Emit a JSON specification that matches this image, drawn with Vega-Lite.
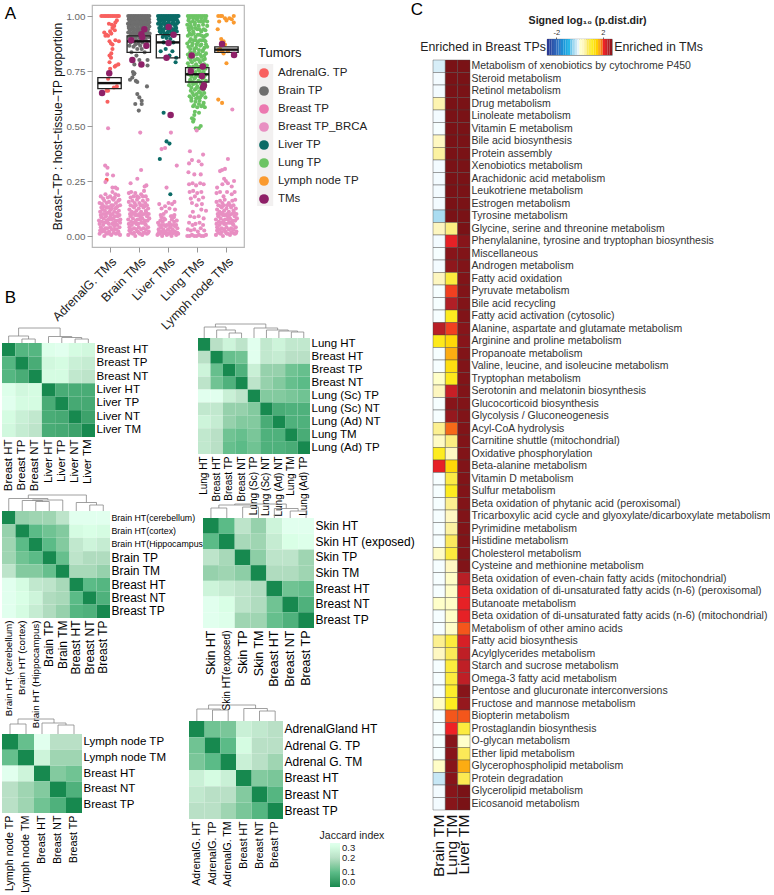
{"$schema":"https://vega.github.io/schema/vega-lite/v6.json","padding":{"left":2,"top":-5,"right":0,"bottom":0},"background":"white","bounds":"flush","spacing":0,
"config":{"font":"Liberation Sans","view":{"stroke":null},"axis":{"grid":false,"labelFont":"Liberation Sans","titleFont":"Liberation Sans"},"legend":{"labelFont":"Liberation Sans","titleFont":"Liberation Sans"}},
"hconcat":[
{"vconcat":[
{"width":17,"height":26,"data":{"values":[{"t":"A"}]},"mark":{"type":"text","fontSize":17},"encoding":{"text":{"field":"t"}}},
{"width":1,"height":261,"data":{"values":[{"a":1}]},"mark":{"type":"text","text":""},"encoding":{}},
{"width":17,"height":20,"data":{"values":[{"t":"B"}]},"mark":{"type":"text","fontSize":17},"encoding":{"text":{"field":"t"}}},
{"width":1,"height":35,"data":{"values":[{"a":1}]},"mark":{"type":"text","text":""},"encoding":{}},
{"width":93,"height":94,"resolve":{"scale":{"x":"independent","y":"independent"}},"layer":[
{"data":{"values":[
{"r":"Breast HT","c":"Breast HT","v":0},{"r":"Breast HT","c":"Breast TP","v":0.09},{"r":"Breast HT","c":"Breast NT","v":0.09},{"r":"Breast HT","c":"Liver HT","v":0.29},{"r":"Breast HT","c":"Liver TP","v":0.3},{"r":"Breast HT","c":"Liver NT","v":0.27},{"r":"Breast HT","c":"Liver TM","v":0.26},
{"r":"Breast TP","c":"Breast HT","v":0.09},{"r":"Breast TP","c":"Breast TP","v":0},{"r":"Breast TP","c":"Breast NT","v":0.07},{"r":"Breast TP","c":"Liver HT","v":0.26},{"r":"Breast TP","c":"Liver TP","v":0.27},{"r":"Breast TP","c":"Liver NT","v":0.24},{"r":"Breast TP","c":"Liver TM","v":0.23},
{"r":"Breast NT","c":"Breast HT","v":0.09},{"r":"Breast NT","c":"Breast TP","v":0.07},{"r":"Breast NT","c":"Breast NT","v":0},{"r":"Breast NT","c":"Liver HT","v":0.27},{"r":"Breast NT","c":"Liver TP","v":0.27},{"r":"Breast NT","c":"Liver NT","v":0.22},{"r":"Breast NT","c":"Liver TM","v":0.21},
{"r":"Liver HT","c":"Breast HT","v":0.29},{"r":"Liver HT","c":"Breast TP","v":0.26},{"r":"Liver HT","c":"Breast NT","v":0.27},{"r":"Liver HT","c":"Liver HT","v":0},{"r":"Liver HT","c":"Liver TP","v":0.07},{"r":"Liver HT","c":"Liver NT","v":0.07},{"r":"Liver HT","c":"Liver TM","v":0.07},
{"r":"Liver TP","c":"Breast HT","v":0.3},{"r":"Liver TP","c":"Breast TP","v":0.27},{"r":"Liver TP","c":"Breast NT","v":0.27},{"r":"Liver TP","c":"Liver HT","v":0.07},{"r":"Liver TP","c":"Liver TP","v":0},{"r":"Liver TP","c":"Liver NT","v":0.065},{"r":"Liver TP","c":"Liver TM","v":0.065},
{"r":"Liver NT","c":"Breast HT","v":0.27},{"r":"Liver NT","c":"Breast TP","v":0.24},{"r":"Liver NT","c":"Breast NT","v":0.22},{"r":"Liver NT","c":"Liver HT","v":0.07},{"r":"Liver NT","c":"Liver TP","v":0.065},{"r":"Liver NT","c":"Liver NT","v":0},{"r":"Liver NT","c":"Liver TM","v":0.05},
{"r":"Liver TM","c":"Breast HT","v":0.26},{"r":"Liver TM","c":"Breast TP","v":0.23},{"r":"Liver TM","c":"Breast NT","v":0.21},{"r":"Liver TM","c":"Liver HT","v":0.07},{"r":"Liver TM","c":"Liver TP","v":0.065},{"r":"Liver TM","c":"Liver NT","v":0.05},{"r":"Liver TM","c":"Liver TM","v":0}
]},"mark":"rect","encoding":{
"x":{"field":"c","type":"nominal","sort":null,"title":null,"axis":{"labelAngle":-90,"labelFontSize":11.5,"labelPadding":2,"ticks":false,"domain":false,"labelLimit":300,"labelOverlap":false}},
"y":{"field":"r","type":"nominal","sort":null,"title":null,"axis":{"orient":"right","labelFontSize":11.5,"labelPadding":1,"ticks":false,"domain":false,"labelLimit":300,"labelOverlap":false}},
"color":{"field":"v","type":"quantitative","legend":null,"scale":{"domain":[0,0.1,0.2,0.3],"range":["#17894f","#5bbb87","#b9e0c6","#ffffff"]}}}},
{"data":{"values":[{"l":1.5,"r":2.5,"a":0,"b":0,"t":4},{"l":0.5,"r":2,"a":0,"b":4,"t":7},{"l":5.5,"r":6.5,"a":0,"b":0,"t":4},{"l":4.5,"r":6,"a":0,"b":4,"t":5.5},{"l":3.5,"r":5.25,"a":0,"b":5.5,"t":6.5},{"l":1.25,"r":4.375,"a":7,"b":6.5,"t":15}]},
"layer":[
{"mark":{"type":"rule","color":"#888","strokeWidth":0.8},"encoding":{"x":{"field":"l","type":"quantitative","axis":null,"scale":{"domain":[0,7]}},"y":{"field":"a","type":"quantitative","axis":null,"scale":{"domain":[-94,0]}},"y2":{"field":"t"}}},
{"mark":{"type":"rule","color":"#888","strokeWidth":0.8},"encoding":{"x":{"field":"r","type":"quantitative","axis":null,"scale":{"domain":[0,7]}},"y":{"field":"b","type":"quantitative","axis":null,"scale":{"domain":[-94,0]}},"y2":{"field":"t"}}},
{"mark":{"type":"rule","color":"#888","strokeWidth":0.8},"encoding":{"x":{"field":"l","type":"quantitative","axis":null,"scale":{"domain":[0,7]}},"x2":{"field":"r"},"y":{"field":"t","type":"quantitative","axis":null,"scale":{"domain":[-94,0]}}}}
]}
]},
{"width":1,"height":74,"data":{"values":[{"a":1}]},"mark":{"type":"text","text":""},"encoding":{}},
{"width":108,"height":107,"resolve":{"scale":{"x":"independent","y":"independent"}},"layer":[
{"data":{"values":[
{"r":"Brain HT(cerebellum)","c":"Brain HT (cerebellum)","v":0},{"r":"Brain HT(cerebellum)","c":"Brain HT (cortex)","v":0.16},{"r":"Brain HT(cerebellum)","c":"Brain HT (Hippocampus)","v":0.17},{"r":"Brain HT(cerebellum)","c":"Brain TP","v":0.17},{"r":"Brain HT(cerebellum)","c":"Brain TM","v":0.21},{"r":"Brain HT(cerebellum)","c":"Breast HT","v":0.3},{"r":"Brain HT(cerebellum)","c":"Breast NT","v":0.3},{"r":"Brain HT(cerebellum)","c":"Breast TP","v":0.3},
{"r":"Brain HT(cortex)","c":"Brain HT (cerebellum)","v":0.16},{"r":"Brain HT(cortex)","c":"Brain HT (cortex)","v":0},{"r":"Brain HT(cortex)","c":"Brain HT (Hippocampus)","v":0.1},{"r":"Brain HT(cortex)","c":"Brain TP","v":0.12},{"r":"Brain HT(cortex)","c":"Brain TM","v":0.14},{"r":"Brain HT(cortex)","c":"Breast HT","v":0.27},{"r":"Brain HT(cortex)","c":"Breast NT","v":0.28},{"r":"Brain HT(cortex)","c":"Breast TP","v":0.27},
{"r":"Brain HT(Hippocampus)","c":"Brain HT (cerebellum)","v":0.17},{"r":"Brain HT(Hippocampus)","c":"Brain HT (cortex)","v":0.1},{"r":"Brain HT(Hippocampus)","c":"Brain HT (Hippocampus)","v":0},{"r":"Brain HT(Hippocampus)","c":"Brain TP","v":0.1},{"r":"Brain HT(Hippocampus)","c":"Brain TM","v":0.14},{"r":"Brain HT(Hippocampus)","c":"Breast HT","v":0.22},{"r":"Brain HT(Hippocampus)","c":"Breast NT","v":0.25},{"r":"Brain HT(Hippocampus)","c":"Breast TP","v":0.23},
{"r":"Brain TP","c":"Brain HT (cerebellum)","v":0.17},{"r":"Brain TP","c":"Brain HT (cortex)","v":0.12},{"r":"Brain TP","c":"Brain HT (Hippocampus)","v":0.1},{"r":"Brain TP","c":"Brain TP","v":0},{"r":"Brain TP","c":"Brain TM","v":0.11},{"r":"Brain TP","c":"Breast HT","v":0.21},{"r":"Brain TP","c":"Breast NT","v":0.19},{"r":"Brain TP","c":"Breast TP","v":0.19},
{"r":"Brain TM","c":"Brain HT (cerebellum)","v":0.21},{"r":"Brain TM","c":"Brain HT (cortex)","v":0.14},{"r":"Brain TM","c":"Brain HT (Hippocampus)","v":0.14},{"r":"Brain TM","c":"Brain TP","v":0.11},{"r":"Brain TM","c":"Brain TM","v":0},{"r":"Brain TM","c":"Breast HT","v":0.18},{"r":"Brain TM","c":"Breast NT","v":0.18},{"r":"Brain TM","c":"Breast TP","v":0.16},
{"r":"Breast HT","c":"Brain HT (cerebellum)","v":0.3},{"r":"Breast HT","c":"Brain HT (cortex)","v":0.27},{"r":"Breast HT","c":"Brain HT (Hippocampus)","v":0.22},{"r":"Breast HT","c":"Brain TP","v":0.21},{"r":"Breast HT","c":"Brain TM","v":0.18},{"r":"Breast HT","c":"Breast HT","v":0},{"r":"Breast HT","c":"Breast NT","v":0.1},{"r":"Breast HT","c":"Breast TP","v":0.09},
{"r":"Breast NT","c":"Brain HT (cerebellum)","v":0.3},{"r":"Breast NT","c":"Brain HT (cortex)","v":0.28},{"r":"Breast NT","c":"Brain HT (Hippocampus)","v":0.25},{"r":"Breast NT","c":"Brain TP","v":0.19},{"r":"Breast NT","c":"Brain TM","v":0.18},{"r":"Breast NT","c":"Breast HT","v":0.1},{"r":"Breast NT","c":"Breast NT","v":0},{"r":"Breast NT","c":"Breast TP","v":0.08},
{"r":"Breast TP","c":"Brain HT (cerebellum)","v":0.3},{"r":"Breast TP","c":"Brain HT (cortex)","v":0.27},{"r":"Breast TP","c":"Brain HT (Hippocampus)","v":0.23},{"r":"Breast TP","c":"Brain TP","v":0.19},{"r":"Breast TP","c":"Brain TM","v":0.16},{"r":"Breast TP","c":"Breast HT","v":0.09},{"r":"Breast TP","c":"Breast NT","v":0.08},{"r":"Breast TP","c":"Breast TP","v":0}
]},"mark":"rect","encoding":{
"x":{"field":"c","type":"nominal","sort":null,"title":null,"axis":{"labelAngle":-90,"labelFontSize":{"condition":{"test":"indexof(datum.label,'(')>=0","value":9.8},"value":12},"labelPadding":2,"ticks":false,"domain":false,"labelLimit":300,"labelOverlap":false}},
"y":{"field":"r","type":"nominal","sort":null,"title":null,"axis":{"orient":"right","labelFontSize":{"condition":{"test":"indexof(datum.label,'(')>=0","value":8.8},"value":12},"labelPadding":1,"ticks":false,"domain":false,"labelLimit":300,"labelOverlap":false}},
"color":{"field":"v","type":"quantitative","legend":null,"scale":{"domain":[0,0.1,0.2,0.3],"range":["#17894f","#5bbb87","#b9e0c6","#ffffff"]}}}},
{"data":{"values":[{"l":2.5,"r":3.5,"a":0,"b":0,"t":9.5},{"l":1.5,"r":3,"a":0,"b":9.5,"t":10.5},{"l":2.25,"r":4.5,"a":10.5,"b":0,"t":11},{"l":0.5,"r":3.4,"a":0,"b":11,"t":12.5},{"l":6.5,"r":7.5,"a":0,"b":0,"t":6},{"l":5.5,"r":7,"a":0,"b":6,"t":8.5},{"l":1.95,"r":6.25,"a":12.5,"b":8.5,"t":16}]},
"layer":[
{"mark":{"type":"rule","color":"#888","strokeWidth":0.8},"encoding":{"x":{"field":"l","type":"quantitative","axis":null,"scale":{"domain":[0,8]}},"y":{"field":"a","type":"quantitative","axis":null,"scale":{"domain":[-107,0]}},"y2":{"field":"t"}}},
{"mark":{"type":"rule","color":"#888","strokeWidth":0.8},"encoding":{"x":{"field":"r","type":"quantitative","axis":null,"scale":{"domain":[0,8]}},"y":{"field":"b","type":"quantitative","axis":null,"scale":{"domain":[-107,0]}},"y2":{"field":"t"}}},
{"mark":{"type":"rule","color":"#888","strokeWidth":0.8},"encoding":{"x":{"field":"l","type":"quantitative","axis":null,"scale":{"domain":[0,8]}},"x2":{"field":"r"},"y":{"field":"t","type":"quantitative","axis":null,"scale":{"domain":[-107,0]}}}}
]}
]},
{"width":1,"height":116,"data":{"values":[{"a":1}]},"mark":{"type":"text","text":""},"encoding":{}},
{"width":80,"height":79,"resolve":{"scale":{"x":"independent","y":"independent"}},"layer":[
{"data":{"values":[
{"r":"Lymph node TP","c":"Lymph node TP","v":0},{"r":"Lymph node TP","c":"Lymph node TM","v":0.11},{"r":"Lymph node TP","c":"Breast HT","v":0.3},{"r":"Lymph node TP","c":"Breast NT","v":0.2},{"r":"Lymph node TP","c":"Breast TP","v":0.2},
{"r":"Lymph node TM","c":"Lymph node TP","v":0.11},{"r":"Lymph node TM","c":"Lymph node TM","v":0},{"r":"Lymph node TM","c":"Breast HT","v":0.25},{"r":"Lymph node TM","c":"Breast NT","v":0.17},{"r":"Lymph node TM","c":"Breast TP","v":0.17},
{"r":"Breast HT","c":"Lymph node TP","v":0.3},{"r":"Breast HT","c":"Lymph node TM","v":0.25},{"r":"Breast HT","c":"Breast HT","v":0},{"r":"Breast HT","c":"Breast NT","v":0.14},{"r":"Breast HT","c":"Breast TP","v":0.12},
{"r":"Breast NT","c":"Lymph node TP","v":0.2},{"r":"Breast NT","c":"Lymph node TM","v":0.17},{"r":"Breast NT","c":"Breast HT","v":0.14},{"r":"Breast NT","c":"Breast NT","v":0},{"r":"Breast NT","c":"Breast TP","v":0.08},
{"r":"Breast TP","c":"Lymph node TP","v":0.2},{"r":"Breast TP","c":"Lymph node TM","v":0.17},{"r":"Breast TP","c":"Breast HT","v":0.12},{"r":"Breast TP","c":"Breast NT","v":0.08},{"r":"Breast TP","c":"Breast TP","v":0}
]},"mark":"rect","encoding":{
"x":{"field":"c","type":"nominal","sort":null,"title":null,"axis":{"labelAngle":-90,"labelFontSize":10.8,"labelPadding":2,"ticks":false,"domain":false,"labelLimit":300,"labelOverlap":false}},
"y":{"field":"r","type":"nominal","sort":null,"title":null,"axis":{"orient":"right","labelFontSize":11.5,"labelPadding":1,"ticks":false,"domain":false,"labelLimit":300,"labelOverlap":false}},
"color":{"field":"v","type":"quantitative","legend":null,"scale":{"domain":[0,0.1,0.2,0.3],"range":["#17894f","#5bbb87","#b9e0c6","#ffffff"]}}}},
{"data":{"values":[{"l":0.5,"r":1.5,"a":0,"b":0,"t":10},{"l":3.5,"r":4.5,"a":0,"b":0,"t":9},{"l":2.5,"r":4,"a":0,"b":9,"t":11},{"l":1,"r":3.25,"a":10,"b":11,"t":15}]},
"layer":[
{"mark":{"type":"rule","color":"#888","strokeWidth":0.8},"encoding":{"x":{"field":"l","type":"quantitative","axis":null,"scale":{"domain":[0,5]}},"y":{"field":"a","type":"quantitative","axis":null,"scale":{"domain":[-79,0]}},"y2":{"field":"t"}}},
{"mark":{"type":"rule","color":"#888","strokeWidth":0.8},"encoding":{"x":{"field":"r","type":"quantitative","axis":null,"scale":{"domain":[0,5]}},"y":{"field":"b","type":"quantitative","axis":null,"scale":{"domain":[-79,0]}},"y2":{"field":"t"}}},
{"mark":{"type":"rule","color":"#888","strokeWidth":0.8},"encoding":{"x":{"field":"l","type":"quantitative","axis":null,"scale":{"domain":[0,5]}},"x2":{"field":"r"},"y":{"field":"t","type":"quantitative","axis":null,"scale":{"domain":[-79,0]}}}}
]}
]}
],"bounds":"flush","spacing":0},
{"width":90,"height":1,"data":{"values":[{"a":1}]},"mark":{"type":"text","text":""},"encoding":{}},
{"vconcat":[
{"width":1,"height":4,"data":{"values":[{"a":1}]},"mark":{"type":"text","text":""},"encoding":{}},
{"width":152,"height":242,"view":{"stroke":"#b8b8b8","strokeWidth":1.2},
"encoding":{"x":{"field":"x","type":"quantitative","title":null,"scale":{"domain":[0.4,5.6],"nice":false,"zero":false},"axis":{"values":[1,2,3,4,5],"labelExpr":"['AdrenalG. TMs','Brain TMs','Liver TMs','Lung TMs','Lymph node TMs'][datum.value-1]","labelAngle":-45,"labelFontSize":12.5,"labelColor":"#222","labelLimit":300,"labelOverlap":false,"domain":false,"tickColor":"#999","labelPadding":3}},
"y":{"field":"y","type":"quantitative","title":"Breast−TP : host−tissue−TP proportion","scale":{"domain":[-0.05,1.05],"nice":false,"zero":false},"axis":{"values":[0,0.25,0.5,0.75,1],"format":".2f","labelFontSize":9.8,"labelColor":"#666","titleFontSize":12,"titleFontWeight":"normal","titleColor":"#111","domain":false,"tickColor":"#999","titlePadding":1}}},
"layer":[
{"data":{"values":[{"x":6.05,"x2":6.6,"y":0.136,"y2":0.782}]},"mark":{"type":"rect","color":"#f2f0f0"},"encoding":{"x2":{"field":"x2"},"y2":{"field":"y2"}}},
{"data":{"values":[{"x":0.72,"y":1},{"x":0.78,"y":1},{"x":0.84,"y":1},{"x":0.88,"y":1},{"x":0.94,"y":1},{"x":0.98,"y":1},{"x":1.04,"y":1},{"x":1.1,"y":1},{"x":1.16,"y":1},{"x":1.22,"y":1},{"x":1.28,"y":1},{"x":1.32,"y":1},{"x":1.25,"y":0.98},{"x":1.2,"y":0.97},{"x":1.08,"y":0.96},{"x":0.98,"y":0.965},{"x":1.16,"y":0.955},{"x":1.1,"y":0.945},{"x":1.02,"y":0.93},{"x":1.18,"y":0.935},{"x":0.82,"y":0.925},{"x":0.9,"y":0.915},{"x":0.95,"y":0.91},{"x":1.06,"y":0.92},{"x":0.86,"y":0.91},{"x":1.2,"y":0.89},{"x":1,"y":0.885},{"x":1.05,"y":0.875},{"x":1.1,"y":0.87},{"x":1.32,"y":0.885},{"x":1.1,"y":0.85},{"x":1.06,"y":0.83},{"x":1,"y":0.82},{"x":1.05,"y":0.81},{"x":1,"y":0.79},{"x":1.3,"y":0.78},{"x":1.22,"y":0.775},{"x":1.18,"y":0.77},{"x":1.02,"y":0.76},{"x":0.95,"y":0.715},{"x":1.25,"y":0.68},{"x":1.15,"y":0.675},{"x":0.95,"y":0.66},{"x":0.9,"y":0.66},{"x":0.93,"y":0.61},{"x":0.9,"y":0.255}]},"mark":{"type":"circle","size":17,"opacity":1},"encoding":{"color":{"datum":"AdrenalG. TP","type":"nominal","scale":{"domain":["AdrenalG. TP","Brain TP","Breast TP","Breast TP_BRCA","Liver TP","Lung TP","Lymph node TP","TMs"],"range":["#f8605f","#6e6e6e","#ec78b0","#e88fc2","#0b6b66","#6cc464","#fa9a2f","#8e2068"]},"legend":{"title":"Tumors","orient":"none","legendX":166,"legendY":46,"titleFontSize":13,"titleFontWeight":"normal","titleColor":"#111","labelFontSize":11.5,"labelColor":"#222","symbolSize":95,"symbolOpacity":1,"rowPadding":6,"titlePadding":7,"labelOffset":8,"symbolType":"circle"}}}},
{"data":{"values":[{"x":1.64,"y":1},{"x":1.7,"y":1},{"x":1.76,"y":1},{"x":1.82,"y":1},{"x":1.88,"y":1},{"x":1.94,"y":1},{"x":2,"y":1},{"x":2.06,"y":1},{"x":2.12,"y":1},{"x":2.18,"y":1},{"x":2.24,"y":1},{"x":2.3,"y":1},{"x":2.36,"y":1},{"x":1.66,"y":0.985},{"x":1.73,"y":0.98},{"x":1.8,"y":0.985},{"x":1.87,"y":0.98},{"x":1.93,"y":0.985},{"x":2,"y":0.98},{"x":2.07,"y":0.985},{"x":2.14,"y":0.98},{"x":2.21,"y":0.985},{"x":2.28,"y":0.98},{"x":2.35,"y":0.985},{"x":1.63,"y":0.965},{"x":1.7,"y":0.96},{"x":1.77,"y":0.965},{"x":1.84,"y":0.96},{"x":1.91,"y":0.965},{"x":1.98,"y":0.96},{"x":2.05,"y":0.965},{"x":2.12,"y":0.96},{"x":2.19,"y":0.965},{"x":2.26,"y":0.96},{"x":2.33,"y":0.965},{"x":1.66,"y":0.945},{"x":1.74,"y":0.94},{"x":1.82,"y":0.945},{"x":1.9,"y":0.94},{"x":1.97,"y":0.945},{"x":2.04,"y":0.94},{"x":2.11,"y":0.945},{"x":2.18,"y":0.94},{"x":2.25,"y":0.945},{"x":2.32,"y":0.94},{"x":1.64,"y":0.925},{"x":1.72,"y":0.92},{"x":1.8,"y":0.925},{"x":1.88,"y":0.92},{"x":1.96,"y":0.925},{"x":2.03,"y":0.92},{"x":2.1,"y":0.925},{"x":2.2,"y":0.92},{"x":2.3,"y":0.925},{"x":2.37,"y":0.92},{"x":1.68,"y":0.905},{"x":1.8,"y":0.9},{"x":1.9,"y":0.905},{"x":2.02,"y":0.9},{"x":2.14,"y":0.905},{"x":2.24,"y":0.9},{"x":2.34,"y":0.905},{"x":1.72,"y":0.88},{"x":1.85,"y":0.885},{"x":1.98,"y":0.875},{"x":2.12,"y":0.88},{"x":2.28,"y":0.885},{"x":1.82,"y":0.86},{"x":1.95,"y":0.85},{"x":2.1,"y":0.85},{"x":2.2,"y":0.835},{"x":1.75,"y":0.835},{"x":1.92,"y":0.82},{"x":2.02,"y":0.8},{"x":2.3,"y":0.8},{"x":1.85,"y":0.78},{"x":2.3,"y":0.775},{"x":1.8,"y":0.745},{"x":1.83,"y":0.735},{"x":1.85,"y":0.74},{"x":1.78,"y":0.72},{"x":1.7,"y":0.71},{"x":1.9,"y":0.705},{"x":1.95,"y":0.7},{"x":2.28,"y":0.68},{"x":1.95,"y":0.645},{"x":2.02,"y":0.63},{"x":2.1,"y":0.615},{"x":1.88,"y":0.6},{"x":2.1,"y":0.6},{"x":2,"y":0.57},{"x":1.67,"y":0.99},{"x":1.78,"y":0.99},{"x":1.9,"y":0.99},{"x":2.03,"y":0.99},{"x":2.16,"y":0.99},{"x":2.3,"y":0.99},{"x":1.68,"y":0.972},{"x":1.8,"y":0.972},{"x":1.94,"y":0.972},{"x":2.08,"y":0.972},{"x":2.22,"y":0.972},{"x":2.36,"y":0.972},{"x":1.66,"y":0.952},{"x":1.78,"y":0.952},{"x":1.94,"y":0.952},{"x":2.08,"y":0.952},{"x":2.22,"y":0.952},{"x":2.36,"y":0.952},{"x":1.69,"y":0.932},{"x":1.84,"y":0.932},{"x":1.99,"y":0.932},{"x":2.15,"y":0.932},{"x":2.26,"y":0.932},{"x":1.74,"y":0.912},{"x":1.86,"y":0.912},{"x":1.97,"y":0.912},{"x":2.09,"y":0.912},{"x":2.19,"y":0.912},{"x":2.29,"y":0.912},{"x":1.76,"y":0.895},{"x":1.92,"y":0.89},{"x":2.06,"y":0.89},{"x":2.2,"y":0.89},{"x":1.68,"y":0.865},{"x":1.88,"y":0.87},{"x":2.05,"y":0.865},{"x":2.24,"y":0.86}]},"mark":{"type":"circle","size":17,"opacity":1},"encoding":{"color":{"datum":"Brain TP","type":"nominal"}}},
{"data":{"values":[{"x":2.66,"y":1},{"x":2.72,"y":1},{"x":2.78,"y":1},{"x":2.84,"y":1},{"x":2.9,"y":1},{"x":2.96,"y":1},{"x":3.02,"y":1},{"x":3.08,"y":1},{"x":3.14,"y":1},{"x":3.2,"y":1},{"x":3.26,"y":1},{"x":3.32,"y":1},{"x":3.36,"y":1},{"x":2.68,"y":0.985},{"x":2.75,"y":0.98},{"x":2.82,"y":0.985},{"x":2.89,"y":0.98},{"x":2.96,"y":0.985},{"x":3.03,"y":0.98},{"x":3.1,"y":0.985},{"x":3.17,"y":0.98},{"x":3.24,"y":0.985},{"x":3.31,"y":0.98},{"x":2.66,"y":0.965},{"x":2.74,"y":0.96},{"x":2.82,"y":0.965},{"x":2.9,"y":0.96},{"x":2.98,"y":0.965},{"x":3.06,"y":0.96},{"x":3.14,"y":0.965},{"x":3.22,"y":0.96},{"x":3.3,"y":0.965},{"x":2.7,"y":0.945},{"x":2.8,"y":0.94},{"x":2.9,"y":0.945},{"x":3,"y":0.94},{"x":3.1,"y":0.945},{"x":3.2,"y":0.94},{"x":3.28,"y":0.945},{"x":2.76,"y":0.925},{"x":2.88,"y":0.92},{"x":2.98,"y":0.925},{"x":3.12,"y":0.92},{"x":3.22,"y":0.925},{"x":2.82,"y":0.905},{"x":2.95,"y":0.9},{"x":3.08,"y":0.895},{"x":2.85,"y":0.88},{"x":3.02,"y":0.875},{"x":3.18,"y":0.88},{"x":2.92,"y":0.85},{"x":3.15,"y":0.84},{"x":2.75,"y":0.84},{"x":3.05,"y":0.82},{"x":3.28,"y":0.81},{"x":3.26,"y":0.79},{"x":2.85,"y":0.56},{"x":2.95,"y":0.43},{"x":3.05,"y":0.42},{"x":2.72,"y":0.35},{"x":3.08,"y":0.19},{"x":2.7,"y":0.99},{"x":2.86,"y":0.99},{"x":3,"y":0.99},{"x":3.14,"y":0.99},{"x":3.28,"y":0.99},{"x":2.7,"y":0.972},{"x":2.86,"y":0.972},{"x":3.02,"y":0.972},{"x":3.18,"y":0.972},{"x":3.34,"y":0.972},{"x":2.76,"y":0.952},{"x":2.95,"y":0.952},{"x":3.05,"y":0.952},{"x":3.25,"y":0.952},{"x":2.72,"y":0.93},{"x":2.84,"y":0.932},{"x":3.05,"y":0.932},{"x":3.17,"y":0.932},{"x":3.3,"y":0.93},{"x":2.9,"y":0.912},{"x":3.03,"y":0.912}]},"mark":{"type":"circle","size":17,"opacity":1},"encoding":{"color":{"datum":"Liver TP","type":"nominal"}}},
{"data":{"values":[{"x":3.68,"y":1},{"x":3.75,"y":1},{"x":3.82,"y":1},{"x":3.89,"y":1},{"x":3.96,"y":1},{"x":4.03,"y":1},{"x":4.1,"y":1},{"x":4.17,"y":1},{"x":4.24,"y":1},{"x":4.31,"y":1},{"x":3.7,"y":0.98},{"x":3.85,"y":0.975},{"x":3.98,"y":0.985},{"x":4.12,"y":0.975},{"x":4.26,"y":0.98},{"x":3.66,"y":0.96},{"x":3.78,"y":0.955},{"x":3.92,"y":0.96},{"x":4.05,"y":0.955},{"x":4.2,"y":0.96},{"x":4.34,"y":0.955},{"x":3.72,"y":0.935},{"x":3.86,"y":0.93},{"x":4,"y":0.94},{"x":4.14,"y":0.93},{"x":4.28,"y":0.935},{"x":3.68,"y":0.91},{"x":3.8,"y":0.915},{"x":3.94,"y":0.905},{"x":4.08,"y":0.915},{"x":4.22,"y":0.905},{"x":4.33,"y":0.915},{"x":3.74,"y":0.885},{"x":3.88,"y":0.89},{"x":4.02,"y":0.88},{"x":4.16,"y":0.89},{"x":4.28,"y":0.885},{"x":3.7,"y":0.86},{"x":3.82,"y":0.865},{"x":3.96,"y":0.855},{"x":4.1,"y":0.865},{"x":4.24,"y":0.855},{"x":4.34,"y":0.86},{"x":3.76,"y":0.835},{"x":3.9,"y":0.84},{"x":4.04,"y":0.83},{"x":4.18,"y":0.84},{"x":4.3,"y":0.83},{"x":3.72,"y":0.81},{"x":3.86,"y":0.815},{"x":4,"y":0.805},{"x":4.14,"y":0.815},{"x":4.26,"y":0.805},{"x":3.68,"y":0.785},{"x":3.82,"y":0.79},{"x":3.96,"y":0.78},{"x":4.1,"y":0.79},{"x":4.24,"y":0.78},{"x":4.33,"y":0.775},{"x":3.74,"y":0.76},{"x":3.9,"y":0.765},{"x":4.04,"y":0.755},{"x":4.18,"y":0.76},{"x":3.7,"y":0.735},{"x":3.84,"y":0.74},{"x":3.98,"y":0.73},{"x":4.12,"y":0.74},{"x":4.26,"y":0.73},{"x":3.76,"y":0.71},{"x":3.9,"y":0.715},{"x":4.04,"y":0.705},{"x":4.18,"y":0.715},{"x":4.3,"y":0.705},{"x":3.72,"y":0.685},{"x":3.86,"y":0.69},{"x":4,"y":0.68},{"x":4.14,"y":0.69},{"x":4.26,"y":0.68},{"x":3.78,"y":0.66},{"x":3.92,"y":0.665},{"x":4.06,"y":0.655},{"x":4.2,"y":0.665},{"x":3.74,"y":0.635},{"x":3.88,"y":0.64},{"x":4.02,"y":0.63},{"x":4.16,"y":0.64},{"x":4.28,"y":0.63},{"x":3.8,"y":0.615},{"x":3.94,"y":0.61},{"x":4.08,"y":0.615},{"x":4.22,"y":0.605},{"x":3.86,"y":0.59},{"x":4,"y":0.585},{"x":4.14,"y":0.59},{"x":4.26,"y":0.585},{"x":3.92,"y":0.565},{"x":4.06,"y":0.56},{"x":3.82,"y":0.535},{"x":3.88,"y":0.53},{"x":3.9,"y":0.55},{"x":3.86,"y":0.52},{"x":4.05,"y":0.49},{"x":4.12,"y":0.5},{"x":3.95,"y":0.49},{"x":3.72,"y":0.99},{"x":3.86,"y":0.99},{"x":4,"y":0.99},{"x":4.14,"y":0.99},{"x":4.28,"y":0.99},{"x":3.76,"y":0.97},{"x":3.92,"y":0.97},{"x":4.06,"y":0.975},{"x":4.2,"y":0.975},{"x":4.34,"y":0.975},{"x":3.7,"y":0.945},{"x":3.82,"y":0.945},{"x":3.94,"y":0.945},{"x":4.08,"y":0.94},{"x":4.22,"y":0.94},{"x":3.74,"y":0.92},{"x":3.88,"y":0.92},{"x":4.02,"y":0.915},{"x":4.16,"y":0.91},{"x":4.28,"y":0.91},{"x":3.78,"y":0.895},{"x":3.95,"y":0.89},{"x":4.09,"y":0.89},{"x":4.24,"y":0.89},{"x":3.66,"y":0.875},{"x":3.84,"y":0.875},{"x":3.98,"y":0.87},{"x":4.14,"y":0.87},{"x":4.3,"y":0.87},{"x":3.76,"y":0.85},{"x":3.9,"y":0.85},{"x":4.06,"y":0.845},{"x":4.2,"y":0.845},{"x":3.68,"y":0.825},{"x":3.84,"y":0.825},{"x":3.97,"y":0.825},{"x":4.1,"y":0.825},{"x":4.24,"y":0.82},{"x":3.78,"y":0.8},{"x":3.92,"y":0.8},{"x":4.06,"y":0.8},{"x":4.2,"y":0.8},{"x":3.72,"y":0.77},{"x":3.86,"y":0.77},{"x":4,"y":0.77},{"x":4.12,"y":0.77},{"x":4.28,"y":0.76},{"x":3.78,"y":0.75},{"x":3.94,"y":0.745},{"x":4.08,"y":0.75},{"x":4.22,"y":0.745},{"x":3.8,"y":0.725},{"x":3.93,"y":0.72},{"x":4.08,"y":0.725},{"x":4.22,"y":0.72},{"x":3.74,"y":0.7},{"x":3.84,"y":0.7},{"x":3.96,"y":0.695},{"x":4.1,"y":0.7},{"x":4.24,"y":0.695},{"x":3.8,"y":0.675},{"x":3.96,"y":0.67},{"x":4.1,"y":0.67},{"x":3.84,"y":0.65},{"x":3.98,"y":0.645},{"x":4.12,"y":0.65},{"x":4.24,"y":0.65},{"x":3.8,"y":0.625},{"x":3.96,"y":0.625},{"x":4.1,"y":0.63},{"x":3.9,"y":0.595},{"x":4.06,"y":0.6},{"x":4.2,"y":0.595}]},"mark":{"type":"circle","size":17,"opacity":1},"encoding":{"color":{"datum":"Lung TP","type":"nominal"}}},
{"data":{"values":[{"x":4.72,"y":1},{"x":4.8,"y":1},{"x":4.85,"y":1},{"x":4.95,"y":0.99},{"x":5,"y":0.98},{"x":5.1,"y":0.99},{"x":5.18,"y":0.985},{"x":5.25,"y":1},{"x":4.75,"y":0.975},{"x":5.25,"y":0.97},{"x":4.7,"y":0.94},{"x":4.82,"y":0.895},{"x":4.9,"y":0.885},{"x":4.78,"y":0.85},{"x":4.85,"y":0.84},{"x":4.9,"y":0.83},{"x":4.72,"y":0.845},{"x":4.95,"y":0.87},{"x":5.05,"y":0.84},{"x":5,"y":0.785},{"x":4.72,"y":0.62},{"x":4.85,"y":0.605}]},"mark":{"type":"circle","size":17,"opacity":1},"encoding":{"color":{"datum":"Lymph node TP","type":"nominal"}}},
{"data":{"values":[{"x":0.66,"y":0.01},{"x":0.74,"y":0.02},{"x":0.82,"y":0},{"x":0.9,"y":0.01},{"x":0.98,"y":0.02},{"x":1.06,"y":0.005},{"x":1.14,"y":0.015},{"x":1.22,"y":0.01},{"x":1.3,"y":0.02},{"x":1.36,"y":0.005},{"x":0.7,"y":0.04},{"x":0.78,"y":0.05},{"x":0.86,"y":0.035},{"x":0.94,"y":0.06},{"x":1.02,"y":0.04},{"x":1.1,"y":0.055},{"x":1.18,"y":0.03},{"x":1.26,"y":0.05},{"x":1.34,"y":0.04},{"x":0.64,"y":0.07},{"x":0.72,"y":0.085},{"x":0.8,"y":0.08},{"x":0.88,"y":0.09},{"x":0.96,"y":0.075},{"x":1.04,"y":0.095},{"x":1.12,"y":0.08},{"x":1.2,"y":0.07},{"x":1.28,"y":0.09},{"x":1.37,"y":0.075},{"x":0.68,"y":0.11},{"x":0.76,"y":0.12},{"x":0.84,"y":0.115},{"x":0.92,"y":0.13},{"x":1,"y":0.11},{"x":1.08,"y":0.125},{"x":1.16,"y":0.11},{"x":1.24,"y":0.13},{"x":1.32,"y":0.115},{"x":0.66,"y":0.15},{"x":0.74,"y":0.145},{"x":0.82,"y":0.16},{"x":0.9,"y":0.15},{"x":0.98,"y":0.155},{"x":1.06,"y":0.14},{"x":1.14,"y":0.165},{"x":1.22,"y":0.15},{"x":1.3,"y":0.16},{"x":1.36,"y":0.14},{"x":0.7,"y":0.18},{"x":0.86,"y":0.19},{"x":1.02,"y":0.18},{"x":1.1,"y":0.2},{"x":1.2,"y":0.19},{"x":1.3,"y":0.185},{"x":1.1,"y":0.22},{"x":1.2,"y":0.22},{"x":1.26,"y":0.215},{"x":0.86,"y":0.245},{"x":0.92,"y":0.28},{"x":1.12,"y":0.275},{"x":0.85,"y":0.32},{"x":0.93,"y":0.31},{"x":0.95,"y":0.49},
{"x":0.68,"y":0.025},{"x":0.76,"y":0.03},{"x":0.84,"y":0.02},{"x":0.92,"y":0.035},{"x":1,"y":0.01},{"x":1.08,"y":0.03},{"x":1.16,"y":0.045},{"x":1.24,"y":0.03},{"x":1.32,"y":0.01},{"x":0.66,"y":0.055},{"x":0.74,"y":0.065},{"x":0.82,"y":0.06},{"x":0.9,"y":0.07},{"x":0.98,"y":0.055},{"x":1.06,"y":0.075},{"x":1.14,"y":0.06},{"x":1.22,"y":0.055},{"x":1.3,"y":0.07},{"x":1.36,"y":0.06},{"x":0.7,"y":0.095},{"x":0.78,"y":0.1},{"x":0.86,"y":0.1},{"x":0.94,"y":0.105},{"x":1.02,"y":0.085},{"x":1.1,"y":0.1},{"x":1.18,"y":0.09},{"x":1.26,"y":0.105},{"x":1.34,"y":0.095},{"x":0.72,"y":0.13},{"x":0.8,"y":0.135},{"x":0.88,"y":0.13},{"x":0.96,"y":0.13},{"x":1.04,"y":0.12},{"x":1.12,"y":0.14},{"x":1.2,"y":0.125},{"x":1.28,"y":0.135},{"x":0.78,"y":0.17},{"x":0.94,"y":0.175},{"x":1.1,"y":0.17},{"x":1.18,"y":0.175},{"x":1.34,"y":0.165},
{"x":1.64,"y":0.005},{"x":1.72,"y":0.015},{"x":1.8,"y":0.01},{"x":1.88,"y":0},{"x":1.96,"y":0.02},{"x":2.04,"y":0.01},{"x":2.12,"y":0.005},{"x":2.2,"y":0.015},{"x":2.28,"y":0.01},{"x":2.34,"y":0.02},{"x":1.68,"y":0.04},{"x":1.76,"y":0.05},{"x":1.84,"y":0.035},{"x":1.92,"y":0.055},{"x":2,"y":0.04},{"x":2.08,"y":0.06},{"x":2.16,"y":0.035},{"x":2.24,"y":0.05},{"x":2.32,"y":0.04},{"x":1.64,"y":0.075},{"x":1.72,"y":0.09},{"x":1.8,"y":0.08},{"x":1.88,"y":0.095},{"x":1.96,"y":0.075},{"x":2.04,"y":0.09},{"x":2.12,"y":0.08},{"x":2.2,"y":0.07},{"x":2.28,"y":0.09},{"x":2.36,"y":0.08},{"x":1.68,"y":0.12},{"x":1.76,"y":0.11},{"x":1.84,"y":0.13},{"x":1.92,"y":0.115},{"x":2,"y":0.125},{"x":2.08,"y":0.11},{"x":2.16,"y":0.13},{"x":2.24,"y":0.115},{"x":2.32,"y":0.125},{"x":1.66,"y":0.155},{"x":1.78,"y":0.16},{"x":1.86,"y":0.15},{"x":1.94,"y":0.165},{"x":2.02,"y":0.15},{"x":2.14,"y":0.16},{"x":2.22,"y":0.15},{"x":2.3,"y":0.165},{"x":1.66,"y":0.195},{"x":1.74,"y":0.2},{"x":1.88,"y":0.195},{"x":2.08,"y":0.19},{"x":2.18,"y":0.205},{"x":2.24,"y":0.18},{"x":2.26,"y":0.23},{"x":2.2,"y":0.225},{"x":1.72,"y":0.24},{"x":1.95,"y":0.26},{"x":2.08,"y":0.3},{"x":2.05,"y":0.47},
{"x":1.68,"y":0.025},{"x":1.76,"y":0.03},{"x":1.84,"y":0.015},{"x":1.92,"y":0.03},{"x":2,"y":0.015},{"x":2.08,"y":0.03},{"x":2.16,"y":0.015},{"x":2.24,"y":0.03},{"x":2.32,"y":0.015},{"x":1.66,"y":0.055},{"x":1.74,"y":0.065},{"x":1.82,"y":0.06},{"x":1.9,"y":0.07},{"x":1.98,"y":0.055},{"x":2.06,"y":0.075},{"x":2.14,"y":0.06},{"x":2.22,"y":0.055},{"x":2.3,"y":0.07},{"x":1.7,"y":0.1},{"x":1.78,"y":0.1},{"x":1.86,"y":0.105},{"x":1.94,"y":0.095},{"x":2.02,"y":0.1},{"x":2.1,"y":0.095},{"x":2.18,"y":0.1},{"x":2.26,"y":0.105},{"x":2.34,"y":0.1},{"x":1.72,"y":0.14},{"x":1.8,"y":0.135},{"x":1.9,"y":0.14},{"x":2.06,"y":0.14},{"x":2.12,"y":0.14},{"x":2.2,"y":0.135},{"x":2.28,"y":0.14},{"x":1.72,"y":0.175},{"x":1.82,"y":0.18},{"x":1.94,"y":0.18},{"x":2,"y":0.175},{"x":2.14,"y":0.18},
{"x":2.64,"y":0.005},{"x":2.72,"y":0.01},{"x":2.8,"y":0},{"x":2.88,"y":0.015},{"x":2.96,"y":0.005},{"x":3.04,"y":0.01},{"x":3.12,"y":0},{"x":3.2,"y":0.015},{"x":3.28,"y":0.005},{"x":3.35,"y":0.01},{"x":2.68,"y":0.03},{"x":2.76,"y":0.04},{"x":2.84,"y":0.03},{"x":2.92,"y":0.045},{"x":3,"y":0.03},{"x":3.08,"y":0.04},{"x":3.16,"y":0.03},{"x":3.24,"y":0.045},{"x":3.32,"y":0.035},{"x":2.66,"y":0.06},{"x":2.74,"y":0.07},{"x":2.82,"y":0.065},{"x":2.9,"y":0.075},{"x":3.05,"y":0.06},{"x":3.13,"y":0.075},{"x":3.21,"y":0.065},{"x":3.3,"y":0.07},{"x":2.75,"y":0.095},{"x":2.85,"y":0.1},{"x":2.93,"y":0.11},{"x":3.1,"y":0.09},{"x":3.22,"y":0.095},{"x":2.78,"y":0.125},{"x":2.9,"y":0.135},{"x":3.05,"y":0.125},{"x":3.24,"y":0.12},{"x":2.7,"y":0.145},{"x":3.02,"y":0.15},{"x":3.14,"y":0.145},{"x":3.22,"y":0.155},{"x":2.95,"y":0.22},{"x":3.3,"y":0.32},{"x":2.78,"y":0.395},{"x":2.9,"y":0.4},{"x":3.1,"y":0.47},
{"x":2.68,"y":0.015},{"x":2.76,"y":0.02},{"x":2.84,"y":0.012},{"x":2.92,"y":0.02},{"x":3,"y":0.012},{"x":3.08,"y":0.02},{"x":3.16,"y":0.012},{"x":3.24,"y":0.02},{"x":3.32,"y":0.015},{"x":2.7,"y":0.05},{"x":2.78,"y":0.05},{"x":2.86,"y":0.05},{"x":2.96,"y":0.05},{"x":3.04,"y":0.05},{"x":3.12,"y":0.05},{"x":3.2,"y":0.05},{"x":3.28,"y":0.05},{"x":2.78,"y":0.085},{"x":2.86,"y":0.08},{"x":3.14,"y":0.09},{"x":3.2,"y":0.085},
{"x":3.66,"y":0},{"x":3.74,"y":0},{"x":3.82,"y":0.005},{"x":3.9,"y":0},{"x":3.98,"y":0},{"x":4.06,"y":0.005},{"x":4.14,"y":0},{"x":4.22,"y":0},{"x":4.3,"y":0.005},{"x":3.68,"y":0.03},{"x":3.78,"y":0.025},{"x":3.9,"y":0.03},{"x":4.02,"y":0.02},{"x":4.12,"y":0.035},{"x":4.24,"y":0.025},{"x":3.72,"y":0.06},{"x":3.84,"y":0.05},{"x":3.94,"y":0.055},{"x":4.08,"y":0.06},{"x":4.2,"y":0.05},{"x":3.76,"y":0.09},{"x":3.9,"y":0.085},{"x":4.05,"y":0.09},{"x":4.22,"y":0.08},{"x":3.85,"y":0.11},{"x":4.14,"y":0.12},{"x":4.3,"y":0.115},{"x":3.82,"y":0.15},{"x":3.98,"y":0.14},{"x":4.16,"y":0.145},{"x":3.78,"y":0.17},{"x":3.92,"y":0.18},{"x":4.05,"y":0.165},{"x":4.2,"y":0.175},{"x":3.74,"y":0.2},{"x":3.86,"y":0.205},{"x":4,"y":0.195},{"x":4.14,"y":0.2},{"x":3.72,"y":0.235},{"x":3.84,"y":0.24},{"x":3.96,"y":0.23},{"x":4.1,"y":0.24},{"x":4.22,"y":0.235},{"x":3.7,"y":0.29},{"x":3.9,"y":0.28},{"x":4.12,"y":0.28},{"x":3.72,"y":0.33},{"x":3.82,"y":0.345},{"x":4.05,"y":0.34},{"x":4.15,"y":0.325},{"x":4.2,"y":0.37},{"x":3.75,"y":0.385},{"x":3.98,"y":0.48},
{"x":4.64,"y":0.005},{"x":4.72,"y":0.015},{"x":4.8,"y":0.01},{"x":4.88,"y":0},{"x":4.96,"y":0.02},{"x":5.04,"y":0.01},{"x":5.12,"y":0.005},{"x":5.2,"y":0.015},{"x":5.28,"y":0.01},{"x":5.34,"y":0.02},{"x":4.68,"y":0.04},{"x":4.76,"y":0.05},{"x":4.84,"y":0.035},{"x":4.92,"y":0.055},{"x":5,"y":0.04},{"x":5.08,"y":0.06},{"x":5.16,"y":0.035},{"x":5.24,"y":0.05},{"x":5.32,"y":0.04},{"x":4.64,"y":0.075},{"x":4.72,"y":0.09},{"x":4.8,"y":0.08},{"x":4.88,"y":0.095},{"x":4.96,"y":0.075},{"x":5.04,"y":0.09},{"x":5.12,"y":0.08},{"x":5.2,"y":0.07},{"x":5.28,"y":0.09},{"x":5.36,"y":0.08},{"x":4.68,"y":0.12},{"x":4.76,"y":0.11},{"x":4.84,"y":0.13},{"x":4.92,"y":0.115},{"x":5,"y":0.125},{"x":5.08,"y":0.11},{"x":5.16,"y":0.13},{"x":5.24,"y":0.115},{"x":5.32,"y":0.125},{"x":4.66,"y":0.155},{"x":4.78,"y":0.16},{"x":4.86,"y":0.15},{"x":4.94,"y":0.165},{"x":5.08,"y":0.15},{"x":5.2,"y":0.16},{"x":5.3,"y":0.165},{"x":4.66,"y":0.195},{"x":4.78,"y":0.2},{"x":4.9,"y":0.18},{"x":5.02,"y":0.2},{"x":5.18,"y":0.19},{"x":5.28,"y":0.2},{"x":4.68,"y":0.22},{"x":4.86,"y":0.235},{"x":5.05,"y":0.24},{"x":5.18,"y":0.225},{"x":5.26,"y":0.25},{"x":4.98,"y":0.25},{"x":4.92,"y":0.26},{"x":4.78,"y":0.295},{"x":4.85,"y":0.3},{"x":4.95,"y":0.305},{"x":5.05,"y":0.35},{"x":5.2,"y":0.575},
{"x":4.68,"y":0.025},{"x":4.76,"y":0.03},{"x":4.84,"y":0.018},{"x":4.92,"y":0.03},{"x":5,"y":0.012},{"x":5.08,"y":0.03},{"x":5.16,"y":0.018},{"x":5.24,"y":0.03},{"x":5.32,"y":0.012},{"x":4.66,"y":0.055},{"x":4.74,"y":0.065},{"x":4.82,"y":0.06},{"x":4.9,"y":0.07},{"x":4.98,"y":0.055},{"x":5.06,"y":0.075},{"x":5.14,"y":0.06},{"x":5.22,"y":0.055},{"x":5.3,"y":0.07},{"x":4.7,"y":0.1},{"x":4.78,"y":0.1},{"x":4.86,"y":0.105},{"x":4.94,"y":0.095},{"x":5.02,"y":0.1},{"x":5.1,"y":0.095},{"x":5.18,"y":0.1},{"x":5.26,"y":0.105},{"x":5.34,"y":0.1},{"x":4.72,"y":0.14},{"x":4.8,"y":0.135},{"x":4.9,"y":0.14},{"x":5.02,"y":0.14},{"x":5.12,"y":0.14},{"x":5.24,"y":0.14}]},"mark":{"type":"circle","size":17,"opacity":1},"encoding":{"color":{"datum":"Breast TP_BRCA","type":"nominal"}}},
{"data":{"values":[{"x":0.6,"x2":1.4,"y":0.67,"y2":0.72},{"x":1.6,"x2":2.4,"y":0.835,"y2":0.91},{"x":2.6,"x2":3.4,"y":0.81,"y2":0.915},{"x":3.6,"x2":4.4,"y":0.7,"y2":0.765},{"x":4.6,"x2":5.4,"y":0.835,"y2":0.86}]},"mark":{"type":"rect","fillOpacity":0,"stroke":"#222","strokeWidth":1.3},"encoding":{"x2":{"field":"x2"},"y2":{"field":"y2"}}},
{"data":{"values":[{"x":0.6,"x2":1.4,"y":0.695},{"x":1.6,"x2":2.4,"y":0.885},{"x":2.6,"x2":3.4,"y":0.88},{"x":3.6,"x2":4.4,"y":0.735},{"x":4.6,"x2":5.4,"y":0.847}]},"mark":{"type":"rule","color":"#111","strokeWidth":2.4},"encoding":{"x2":{"field":"x2"}}},
{"data":{"values":[{"x":0.99,"y":0.74},{"x":0.745,"y":0.65},{"x":1.74,"y":0.89},{"x":2.09,"y":0.917},{"x":2.19,"y":0.94},{"x":2.12,"y":0.905},{"x":2.26,"y":0.865},{"x":1.78,"y":0.8},{"x":2.09,"y":0.78},{"x":3.02,"y":0.95},{"x":3.19,"y":0.915},{"x":3.02,"y":0.877},{"x":2.95,"y":0.81},{"x":3.09,"y":0.55},{"x":3.81,"y":0.82},{"x":3.78,"y":0.75},{"x":4.19,"y":0.77},{"x":4.16,"y":0.727},{"x":4.23,"y":0.685},{"x":4.2,"y":0.675},{"x":4.85,"y":0.873},{"x":5.26,"y":0.823}]},"mark":{"type":"circle","size":42,"opacity":1},"encoding":{"color":{"datum":"TMs","type":"nominal"}}}
]}
],"bounds":"flush","spacing":0},
{"width":97,"height":1,"data":{"values":[{"a":1}]},"mark":{"type":"text","text":""},"encoding":{}},
{"vconcat":[
{"width":1,"height":720,"data":{"values":[{"a":1}]},"mark":{"type":"text","text":""},"encoding":{}},
{"width":94,"height":98,"resolve":{"scale":{"x":"independent","y":"independent"}},"layer":[
{"data":{"values":[
{"r":"AdrenalGland HT","c":"AdrenalG. HT","v":0},{"r":"AdrenalGland HT","c":"AdrenalG. TP","v":0.12},{"r":"AdrenalGland HT","c":"AdrenalG. TM","v":0.13},{"r":"AdrenalGland HT","c":"Breast HT","v":0.24},{"r":"AdrenalGland HT","c":"Breast NT","v":0.22},{"r":"AdrenalGland HT","c":"Breast TP","v":0.2},
{"r":"Adrenal G. TP","c":"AdrenalG. HT","v":0.12},{"r":"Adrenal G. TP","c":"AdrenalG. TP","v":0},{"r":"Adrenal G. TP","c":"AdrenalG. TM","v":0.1},{"r":"Adrenal G. TP","c":"Breast HT","v":0.27},{"r":"Adrenal G. TP","c":"Breast NT","v":0.2},{"r":"Adrenal G. TP","c":"Breast TP","v":0.2},
{"r":"Adrenal G. TM","c":"AdrenalG. HT","v":0.13},{"r":"Adrenal G. TM","c":"AdrenalG. TP","v":0.1},{"r":"Adrenal G. TM","c":"AdrenalG. TM","v":0},{"r":"Adrenal G. TM","c":"Breast HT","v":0.24},{"r":"Adrenal G. TM","c":"Breast NT","v":0.2},{"r":"Adrenal G. TM","c":"Breast TP","v":0.17},
{"r":"Breast HT","c":"AdrenalG. HT","v":0.24},{"r":"Breast HT","c":"AdrenalG. TP","v":0.27},{"r":"Breast HT","c":"AdrenalG. TM","v":0.24},{"r":"Breast HT","c":"Breast HT","v":0},{"r":"Breast HT","c":"Breast NT","v":0.14},{"r":"Breast HT","c":"Breast TP","v":0.13},
{"r":"Breast NT","c":"AdrenalG. HT","v":0.22},{"r":"Breast NT","c":"AdrenalG. TP","v":0.2},{"r":"Breast NT","c":"AdrenalG. TM","v":0.2},{"r":"Breast NT","c":"Breast HT","v":0.14},{"r":"Breast NT","c":"Breast NT","v":0},{"r":"Breast NT","c":"Breast TP","v":0.09},
{"r":"Breast TP","c":"AdrenalG. HT","v":0.2},{"r":"Breast TP","c":"AdrenalG. TP","v":0.2},{"r":"Breast TP","c":"AdrenalG. TM","v":0.17},{"r":"Breast TP","c":"Breast HT","v":0.13},{"r":"Breast TP","c":"Breast NT","v":0.09},{"r":"Breast TP","c":"Breast TP","v":0}
]},"mark":"rect","encoding":{
"x":{"field":"c","type":"nominal","sort":null,"title":null,"axis":{"labelAngle":-90,"labelFontSize":10.5,"labelPadding":2,"ticks":false,"domain":false,"labelLimit":300,"labelOverlap":false}},
"y":{"field":"r","type":"nominal","sort":null,"title":null,"axis":{"orient":"right","labelFontSize":12,"labelPadding":1,"ticks":false,"domain":false,"labelLimit":300,"labelOverlap":false}},
"color":{"field":"v","type":"quantitative","scale":{"domain":[0,0.1,0.2,0.3],"range":["#17894f","#5bbb87","#b9e0c6","#ffffff"]},"legend":{"title":null,"orient":"none","legendX":141,"legendY":842,"direction":"vertical","gradientLength":44,"gradientThickness":10,"values":[0,0.1,0.2,0.3],"format":".1f","labelFontSize":9.5,"labelColor":"#222","labelOverlap":false}}}},
{"data":{"values":[{"l":10.4,"a":-115,"t":"Jaccard index"}]},"mark":{"type":"text","fontSize":10.5,"color":"#222"},"encoding":{"x":{"field":"l","type":"quantitative","axis":null,"scale":{"domain":[0,6]}},"y":{"field":"a","type":"quantitative","axis":null,"scale":{"domain":[-98,0]}},"text":{"field":"t"}}},
{"data":{"values":[{"l":1.5,"r":2.5,"a":0,"b":0,"t":11},{"l":0.5,"r":2,"a":0,"b":11,"t":12},{"l":4.5,"r":5.5,"a":0,"b":0,"t":10},{"l":3.5,"r":5,"a":0,"b":10,"t":12.5},{"l":1.25,"r":4.25,"a":12,"b":12.5,"t":16}]},
"layer":[
{"mark":{"type":"rule","color":"#888","strokeWidth":0.8},"encoding":{"x":{"field":"l","type":"quantitative","axis":null,"scale":{"domain":[0,6]}},"y":{"field":"a","type":"quantitative","axis":null,"scale":{"domain":[-98,0]}},"y2":{"field":"t"}}},
{"mark":{"type":"rule","color":"#888","strokeWidth":0.8},"encoding":{"x":{"field":"r","type":"quantitative","axis":null,"scale":{"domain":[0,6]}},"y":{"field":"b","type":"quantitative","axis":null,"scale":{"domain":[-98,0]}},"y2":{"field":"t"}}},
{"mark":{"type":"rule","color":"#888","strokeWidth":0.8},"encoding":{"x":{"field":"l","type":"quantitative","axis":null,"scale":{"domain":[0,6]}},"x2":{"field":"r"},"y":{"field":"t","type":"quantitative","axis":null,"scale":{"domain":[-98,0]}}}}
]}
]}
],"bounds":"flush","spacing":0},
{"width":9,"height":1,"data":{"values":[{"a":1}]},"mark":{"type":"text","text":""},"encoding":{}},
{"vconcat":[
{"width":1,"height":337,"data":{"values":[{"a":1}]},"mark":{"type":"text","text":""},"encoding":{}},
{"width":112,"height":116,"resolve":{"scale":{"x":"independent","y":"independent"}},"layer":[
{"data":{"values":[
{"r":"Lung HT","c":"Lung HT","v":0},{"r":"Lung HT","c":"Breast HT","v":0.2},{"r":"Lung HT","c":"Breast TP","v":0.25},{"r":"Lung HT","c":"Breast NT","v":0.21},{"r":"Lung HT","c":"Lung (Sc) TP","v":0.3},{"r":"Lung HT","c":"Lung (Sc) NT","v":0.22},{"r":"Lung HT","c":"Lung (Ad) NT","v":0.25},{"r":"Lung HT","c":"Lung TM","v":0.22},{"r":"Lung HT","c":"Lung (Ad) TP","v":0.22},
{"r":"Breast HT","c":"Lung HT","v":0.2},{"r":"Breast HT","c":"Breast HT","v":0},{"r":"Breast HT","c":"Breast TP","v":0.11},{"r":"Breast HT","c":"Breast NT","v":0.12},{"r":"Breast HT","c":"Lung (Sc) TP","v":0.3},{"r":"Breast HT","c":"Lung (Sc) NT","v":0.22},{"r":"Breast HT","c":"Lung (Ad) NT","v":0.23},{"r":"Breast HT","c":"Lung TM","v":0.2},{"r":"Breast HT","c":"Lung (Ad) TP","v":0.2},
{"r":"Breast TP","c":"Lung HT","v":0.25},{"r":"Breast TP","c":"Breast HT","v":0.11},{"r":"Breast TP","c":"Breast TP","v":0},{"r":"Breast TP","c":"Breast NT","v":0.08},{"r":"Breast TP","c":"Lung (Sc) TP","v":0.24},{"r":"Breast TP","c":"Lung (Sc) NT","v":0.16},{"r":"Breast TP","c":"Lung (Ad) NT","v":0.16},{"r":"Breast TP","c":"Lung TM","v":0.12},{"r":"Breast TP","c":"Lung (Ad) TP","v":0.11},
{"r":"Breast NT","c":"Lung HT","v":0.21},{"r":"Breast NT","c":"Breast HT","v":0.12},{"r":"Breast NT","c":"Breast TP","v":0.08},{"r":"Breast NT","c":"Breast NT","v":0},{"r":"Breast NT","c":"Lung (Sc) TP","v":0.21},{"r":"Breast NT","c":"Lung (Sc) NT","v":0.16},{"r":"Breast NT","c":"Lung (Ad) NT","v":0.14},{"r":"Breast NT","c":"Lung TM","v":0.11},{"r":"Breast NT","c":"Lung (Ad) TP","v":0.1},
{"r":"Lung (Sc) TP","c":"Lung HT","v":0.3},{"r":"Lung (Sc) TP","c":"Breast HT","v":0.3},{"r":"Lung (Sc) TP","c":"Breast TP","v":0.24},{"r":"Lung (Sc) TP","c":"Breast NT","v":0.21},{"r":"Lung (Sc) TP","c":"Lung (Sc) TP","v":0},{"r":"Lung (Sc) TP","c":"Lung (Sc) NT","v":0.14},{"r":"Lung (Sc) TP","c":"Lung (Ad) NT","v":0.14},{"r":"Lung (Sc) TP","c":"Lung TM","v":0.13},{"r":"Lung (Sc) TP","c":"Lung (Ad) TP","v":0.12},
{"r":"Lung (Sc) NT","c":"Lung HT","v":0.22},{"r":"Lung (Sc) NT","c":"Breast HT","v":0.22},{"r":"Lung (Sc) NT","c":"Breast TP","v":0.16},{"r":"Lung (Sc) NT","c":"Breast NT","v":0.16},{"r":"Lung (Sc) NT","c":"Lung (Sc) TP","v":0.14},{"r":"Lung (Sc) NT","c":"Lung (Sc) NT","v":0},{"r":"Lung (Sc) NT","c":"Lung (Ad) NT","v":0.07},{"r":"Lung (Sc) NT","c":"Lung TM","v":0.08},{"r":"Lung (Sc) NT","c":"Lung (Ad) TP","v":0.08},
{"r":"Lung (Ad) NT","c":"Lung HT","v":0.25},{"r":"Lung (Ad) NT","c":"Breast HT","v":0.23},{"r":"Lung (Ad) NT","c":"Breast TP","v":0.16},{"r":"Lung (Ad) NT","c":"Breast NT","v":0.14},{"r":"Lung (Ad) NT","c":"Lung (Sc) TP","v":0.14},{"r":"Lung (Ad) NT","c":"Lung (Sc) NT","v":0.07},{"r":"Lung (Ad) NT","c":"Lung (Ad) NT","v":0},{"r":"Lung (Ad) NT","c":"Lung TM","v":0.08},{"r":"Lung (Ad) NT","c":"Lung (Ad) TP","v":0.08},
{"r":"Lung TM","c":"Lung HT","v":0.22},{"r":"Lung TM","c":"Breast HT","v":0.2},{"r":"Lung TM","c":"Breast TP","v":0.12},{"r":"Lung TM","c":"Breast NT","v":0.11},{"r":"Lung TM","c":"Lung (Sc) TP","v":0.13},{"r":"Lung TM","c":"Lung (Sc) NT","v":0.08},{"r":"Lung TM","c":"Lung (Ad) NT","v":0.08},{"r":"Lung TM","c":"Lung TM","v":0},{"r":"Lung TM","c":"Lung (Ad) TP","v":0.07},
{"r":"Lung (Ad) TP","c":"Lung HT","v":0.22},{"r":"Lung (Ad) TP","c":"Breast HT","v":0.2},{"r":"Lung (Ad) TP","c":"Breast TP","v":0.11},{"r":"Lung (Ad) TP","c":"Breast NT","v":0.1},{"r":"Lung (Ad) TP","c":"Lung (Sc) TP","v":0.12},{"r":"Lung (Ad) TP","c":"Lung (Sc) NT","v":0.08},{"r":"Lung (Ad) TP","c":"Lung (Ad) NT","v":0.08},{"r":"Lung (Ad) TP","c":"Lung TM","v":0.07},{"r":"Lung (Ad) TP","c":"Lung (Ad) TP","v":0}
]},"mark":"rect","encoding":{
"x":{"field":"c","type":"nominal","sort":null,"title":null,"axis":{"labelAngle":-90,"labelFontSize":10,"labelPadding":2,"ticks":false,"domain":false,"labelLimit":300,"labelOverlap":false}},
"y":{"field":"r","type":"nominal","sort":null,"title":null,"axis":{"orient":"right","labelFontSize":11.5,"labelPadding":1,"ticks":false,"domain":false,"labelLimit":300,"labelOverlap":false}},
"color":{"field":"v","type":"quantitative","legend":null,"scale":{"domain":[0,0.1,0.2,0.3],"range":["#17894f","#5bbb87","#b9e0c6","#ffffff"]}}}},
{"data":{"values":[{"l":2.5,"r":3.5,"a":0,"b":0,"t":5},{"l":1.5,"r":3,"a":0,"b":5,"t":8},{"l":0.5,"r":2.25,"a":0,"b":8,"t":11},{"l":7.5,"r":8.5,"a":0,"b":0,"t":6},{"l":6.5,"r":8,"a":0,"b":6,"t":7},{"l":5.5,"r":7.25,"a":0,"b":7,"t":8},{"l":4.5,"r":6.4,"a":0,"b":8,"t":10},{"l":1.4,"r":5.45,"a":11,"b":10,"t":14}]},
"layer":[
{"mark":{"type":"rule","color":"#888","strokeWidth":0.8},"encoding":{"x":{"field":"l","type":"quantitative","axis":null,"scale":{"domain":[0,9]}},"y":{"field":"a","type":"quantitative","axis":null,"scale":{"domain":[-116,0]}},"y2":{"field":"t"}}},
{"mark":{"type":"rule","color":"#888","strokeWidth":0.8},"encoding":{"x":{"field":"r","type":"quantitative","axis":null,"scale":{"domain":[0,9]}},"y":{"field":"b","type":"quantitative","axis":null,"scale":{"domain":[-116,0]}},"y2":{"field":"t"}}},
{"mark":{"type":"rule","color":"#888","strokeWidth":0.8},"encoding":{"x":{"field":"l","type":"quantitative","axis":null,"scale":{"domain":[0,9]}},"x2":{"field":"r"},"y":{"field":"t","type":"quantitative","axis":null,"scale":{"domain":[-116,0]}}}}
]}
]}
],"bounds":"flush","spacing":0},
{"width":5,"height":1,"data":{"values":[{"a":1}]},"mark":{"type":"text","text":""},"encoding":{}},
{"vconcat":[
{"width":1,"height":517,"data":{"values":[{"a":1}]},"mark":{"type":"text","text":""},"encoding":{}},
{"width":111,"height":110,"resolve":{"scale":{"x":"independent","y":"independent"}},"layer":[
{"data":{"values":[
{"r":"Skin HT","c":"Skin HT","v":0},{"r":"Skin HT","c":"Skin HT(exposed)","v":0.1},{"r":"Skin HT","c":"Skin TP","v":0.21},{"r":"Skin HT","c":"Skin TM","v":0.16},{"r":"Skin HT","c":"Breast HT","v":0.25},{"r":"Skin HT","c":"Breast NT","v":0.3},{"r":"Skin HT","c":"Breast TP","v":0.3},
{"r":"Skin HT (exposed)","c":"Skin HT","v":0.1},{"r":"Skin HT (exposed)","c":"Skin HT(exposed)","v":0},{"r":"Skin HT (exposed)","c":"Skin TP","v":0.18},{"r":"Skin HT (exposed)","c":"Skin TM","v":0.17},{"r":"Skin HT (exposed)","c":"Breast HT","v":0.23},{"r":"Skin HT (exposed)","c":"Breast NT","v":0.28},{"r":"Skin HT (exposed)","c":"Breast TP","v":0.29},
{"r":"Skin TP","c":"Skin HT","v":0.21},{"r":"Skin TP","c":"Skin HT(exposed)","v":0.18},{"r":"Skin TP","c":"Skin TP","v":0},{"r":"Skin TP","c":"Skin TM","v":0.15},{"r":"Skin TP","c":"Breast HT","v":0.21},{"r":"Skin TP","c":"Breast NT","v":0.21},{"r":"Skin TP","c":"Breast TP","v":0.17},
{"r":"Skin TM","c":"Skin HT","v":0.16},{"r":"Skin TM","c":"Skin HT(exposed)","v":0.17},{"r":"Skin TM","c":"Skin TP","v":0.15},{"r":"Skin TM","c":"Skin TM","v":0},{"r":"Skin TM","c":"Breast HT","v":0.19},{"r":"Skin TM","c":"Breast NT","v":0.19},{"r":"Skin TM","c":"Breast TP","v":0.17},
{"r":"Breast HT","c":"Skin HT","v":0.25},{"r":"Breast HT","c":"Skin HT(exposed)","v":0.23},{"r":"Breast HT","c":"Skin TP","v":0.21},{"r":"Breast HT","c":"Skin TM","v":0.19},{"r":"Breast HT","c":"Breast HT","v":0},{"r":"Breast HT","c":"Breast NT","v":0.12},{"r":"Breast HT","c":"Breast TP","v":0.11},
{"r":"Breast NT","c":"Skin HT","v":0.3},{"r":"Breast NT","c":"Skin HT(exposed)","v":0.28},{"r":"Breast NT","c":"Skin TP","v":0.21},{"r":"Breast NT","c":"Skin TM","v":0.19},{"r":"Breast NT","c":"Breast HT","v":0.12},{"r":"Breast NT","c":"Breast NT","v":0},{"r":"Breast NT","c":"Breast TP","v":0.08},
{"r":"Breast TP","c":"Skin HT","v":0.3},{"r":"Breast TP","c":"Skin HT(exposed)","v":0.29},{"r":"Breast TP","c":"Skin TP","v":0.17},{"r":"Breast TP","c":"Skin TM","v":0.17},{"r":"Breast TP","c":"Breast HT","v":0.11},{"r":"Breast TP","c":"Breast NT","v":0.08},{"r":"Breast TP","c":"Breast TP","v":0}
]},"mark":"rect","encoding":{
"x":{"field":"c","type":"nominal","sort":null,"title":null,"axis":{"labelAngle":-90,"labelFontSize":{"condition":{"test":"indexof(datum.label,'(')>=0","value":10},"value":12.5},"labelPadding":2,"ticks":false,"domain":false,"labelLimit":300,"labelOverlap":false}},
"y":{"field":"r","type":"nominal","sort":null,"title":null,"axis":{"orient":"right","labelFontSize":12,"labelPadding":1,"ticks":false,"domain":false,"labelLimit":300,"labelOverlap":false}},
"color":{"field":"v","type":"quantitative","legend":null,"scale":{"domain":[0,0.1,0.2,0.3],"range":["#17894f","#5bbb87","#b9e0c6","#ffffff"]}}}},
{"data":{"values":[{"l":0.5,"r":1.5,"a":0,"b":0,"t":10},{"l":2.5,"r":3.5,"a":0,"b":0,"t":11},{"l":1,"r":3,"a":10,"b":11,"t":13},{"l":5.5,"r":6.5,"a":0,"b":0,"t":7},{"l":4.5,"r":6,"a":0,"b":7,"t":9.5},{"l":2,"r":5.25,"a":13,"b":9.5,"t":14}]},
"layer":[
{"mark":{"type":"rule","color":"#888","strokeWidth":0.8},"encoding":{"x":{"field":"l","type":"quantitative","axis":null,"scale":{"domain":[0,7]}},"y":{"field":"a","type":"quantitative","axis":null,"scale":{"domain":[-110,0]}},"y2":{"field":"t"}}},
{"mark":{"type":"rule","color":"#888","strokeWidth":0.8},"encoding":{"x":{"field":"r","type":"quantitative","axis":null,"scale":{"domain":[0,7]}},"y":{"field":"b","type":"quantitative","axis":null,"scale":{"domain":[-110,0]}},"y2":{"field":"t"}}},
{"mark":{"type":"rule","color":"#888","strokeWidth":0.8},"encoding":{"x":{"field":"l","type":"quantitative","axis":null,"scale":{"domain":[0,7]}},"x2":{"field":"r"},"y":{"field":"t","type":"quantitative","axis":null,"scale":{"domain":[-110,0]}}}}
]}
]}
],"bounds":"flush","spacing":0},
{"width":206,"height":1,"data":{"values":[{"a":1}]},"mark":{"type":"text","text":""},"encoding":{}},
{"vconcat":[{"width":16,"height":18,"data":{"values":[{"t":"C"}]},"mark":{"type":"text","fontSize":17},"encoding":{"text":{"field":"t"}}}],"bounds":"flush","spacing":0},
{"width":24,"height":1,"data":{"values":[{"a":1}]},"mark":{"type":"text","text":""},"encoding":{}},
{"vconcat":[
{"width":1,"height":59,"data":{"values":[{"a":1}]},"mark":{"type":"text","text":""},"encoding":{}},
{"width":37,"height":750,"data":{"values":[
{"p":"Metabolism of xenobiotics by cytochrome P450","t":"Brain TM","v":-0.3},{"p":"Metabolism of xenobiotics by cytochrome P450","t":"Lung TM","v":2.8},{"p":"Metabolism of xenobiotics by cytochrome P450","t":"Liver TM","v":2.8},
{"p":"Steroid metabolism","t":"Brain TM","v":-0.1},{"p":"Steroid metabolism","t":"Lung TM","v":2.8},{"p":"Steroid metabolism","t":"Liver TM","v":2.8},
{"p":"Retinol metabolism","t":"Brain TM","v":-0.1},{"p":"Retinol metabolism","t":"Lung TM","v":2.8},{"p":"Retinol metabolism","t":"Liver TM","v":2.8},
{"p":"Drug metabolism","t":"Brain TM","v":0.35},{"p":"Drug metabolism","t":"Lung TM","v":2.8},{"p":"Drug metabolism","t":"Liver TM","v":2.8},
{"p":"Linoleate metabolism","t":"Brain TM","v":-0.1},{"p":"Linoleate metabolism","t":"Lung TM","v":2.8},{"p":"Linoleate metabolism","t":"Liver TM","v":2.8},
{"p":"Vitamin E metabolism","t":"Brain TM","v":-0.05},{"p":"Vitamin E metabolism","t":"Lung TM","v":2.8},{"p":"Vitamin E metabolism","t":"Liver TM","v":2.8},
{"p":"Bile acid biosynthesis","t":"Brain TM","v":0.25},{"p":"Bile acid biosynthesis","t":"Lung TM","v":2.8},{"p":"Bile acid biosynthesis","t":"Liver TM","v":2.8},
{"p":"Protein assembly","t":"Brain TM","v":0.4},{"p":"Protein assembly","t":"Lung TM","v":2.8},{"p":"Protein assembly","t":"Liver TM","v":2.8},
{"p":"Xenobiotics metabolism","t":"Brain TM","v":-0.1},{"p":"Xenobiotics metabolism","t":"Lung TM","v":2.8},{"p":"Xenobiotics metabolism","t":"Liver TM","v":2.8},
{"p":"Arachidonic acid metabolism","t":"Brain TM","v":-0.1},{"p":"Arachidonic acid metabolism","t":"Lung TM","v":2.8},{"p":"Arachidonic acid metabolism","t":"Liver TM","v":2.8},
{"p":"Leukotriene metabolism","t":"Brain TM","v":-0.1},{"p":"Leukotriene metabolism","t":"Lung TM","v":2.8},{"p":"Leukotriene metabolism","t":"Liver TM","v":2.8},
{"p":"Estrogen metabolism","t":"Brain TM","v":-0.1},{"p":"Estrogen metabolism","t":"Lung TM","v":2.8},{"p":"Estrogen metabolism","t":"Liver TM","v":2.8},
{"p":"Tyrosine metabolism","t":"Brain TM","v":-0.55},{"p":"Tyrosine metabolism","t":"Lung TM","v":2.8},{"p":"Tyrosine metabolism","t":"Liver TM","v":2.8},
{"p":"Glycine, serine and threonine metabolism","t":"Brain TM","v":0.3},{"p":"Glycine, serine and threonine metabolism","t":"Lung TM","v":0.5},{"p":"Glycine, serine and threonine metabolism","t":"Liver TM","v":2.8},
{"p":"Phenylalanine, tyrosine and tryptophan biosynthesis","t":"Brain TM","v":-0.1},{"p":"Phenylalanine, tyrosine and tryptophan biosynthesis","t":"Lung TM","v":2.05},{"p":"Phenylalanine, tyrosine and tryptophan biosynthesis","t":"Liver TM","v":2.7},
{"p":"Miscellaneous","t":"Brain TM","v":-0.05},{"p":"Miscellaneous","t":"Lung TM","v":2.7},{"p":"Miscellaneous","t":"Liver TM","v":2.75},
{"p":"Androgen metabolism","t":"Brain TM","v":-0.1},{"p":"Androgen metabolism","t":"Lung TM","v":2.65},{"p":"Androgen metabolism","t":"Liver TM","v":2.75},
{"p":"Fatty acid oxidation","t":"Brain TM","v":0.3},{"p":"Fatty acid oxidation","t":"Lung TM","v":0.85},{"p":"Fatty acid oxidation","t":"Liver TM","v":2.75},
{"p":"Pyruvate metabolism","t":"Brain TM","v":-0.05},{"p":"Pyruvate metabolism","t":"Lung TM","v":1.95},{"p":"Pyruvate metabolism","t":"Liver TM","v":2.75},
{"p":"Bile acid recycling","t":"Brain TM","v":-0.05},{"p":"Bile acid recycling","t":"Lung TM","v":2.4},{"p":"Bile acid recycling","t":"Liver TM","v":2.75},
{"p":"Fatty acid activation (cytosolic)","t":"Brain TM","v":-0.05},{"p":"Fatty acid activation (cytosolic)","t":"Lung TM","v":1},{"p":"Fatty acid activation (cytosolic)","t":"Liver TM","v":2.75},
{"p":"Alanine, aspartate and glutamate metabolism","t":"Brain TM","v":2.35},{"p":"Alanine, aspartate and glutamate metabolism","t":"Lung TM","v":1.95},{"p":"Alanine, aspartate and glutamate metabolism","t":"Liver TM","v":2.7},
{"p":"Arginine and proline metabolism","t":"Brain TM","v":1.05},{"p":"Arginine and proline metabolism","t":"Lung TM","v":1.3},{"p":"Arginine and proline metabolism","t":"Liver TM","v":2.7},
{"p":"Propanoate metabolism","t":"Brain TM","v":-0.05},{"p":"Propanoate metabolism","t":"Lung TM","v":1.6},{"p":"Propanoate metabolism","t":"Liver TM","v":2.75},
{"p":"Valine, leucine, and isoleucine metabolism","t":"Brain TM","v":-0.05},{"p":"Valine, leucine, and isoleucine metabolism","t":"Lung TM","v":1.2},{"p":"Valine, leucine, and isoleucine metabolism","t":"Liver TM","v":2.75},
{"p":"Tryptophan metabolism","t":"Brain TM","v":0.02},{"p":"Tryptophan metabolism","t":"Lung TM","v":1.05},{"p":"Tryptophan metabolism","t":"Liver TM","v":2.75},
{"p":"Serotonin and melatonin biosynthesis","t":"Brain TM","v":0.3},{"p":"Serotonin and melatonin biosynthesis","t":"Lung TM","v":2.25},{"p":"Serotonin and melatonin biosynthesis","t":"Liver TM","v":2.75},
{"p":"Glucocorticoid biosynthesis","t":"Brain TM","v":-0.05},{"p":"Glucocorticoid biosynthesis","t":"Lung TM","v":2.7},{"p":"Glucocorticoid biosynthesis","t":"Liver TM","v":2.75},
{"p":"Glycolysis / Gluconeogenesis","t":"Brain TM","v":-0.05},{"p":"Glycolysis / Gluconeogenesis","t":"Lung TM","v":2.6},{"p":"Glycolysis / Gluconeogenesis","t":"Liver TM","v":2.75},
{"p":"Acyl-CoA hydrolysis","t":"Brain TM","v":0.45},{"p":"Acyl-CoA hydrolysis","t":"Lung TM","v":1.85},{"p":"Acyl-CoA hydrolysis","t":"Liver TM","v":2.75},
{"p":"Carnitine shuttle (mitochondrial)","t":"Brain TM","v":0.15},{"p":"Carnitine shuttle (mitochondrial)","t":"Lung TM","v":0.5},{"p":"Carnitine shuttle (mitochondrial)","t":"Liver TM","v":2.75},
{"p":"Oxidative phosphorylation","t":"Brain TM","v":1},{"p":"Oxidative phosphorylation","t":"Lung TM","v":0.25},{"p":"Oxidative phosphorylation","t":"Liver TM","v":2.75},
{"p":"Beta-alanine metabolism","t":"Brain TM","v":2.05},{"p":"Beta-alanine metabolism","t":"Lung TM","v":1.3},{"p":"Beta-alanine metabolism","t":"Liver TM","v":2.75},
{"p":"Vitamin D metabolism","t":"Brain TM","v":-0.05},{"p":"Vitamin D metabolism","t":"Lung TM","v":0.8},{"p":"Vitamin D metabolism","t":"Liver TM","v":2.75},
{"p":"Sulfur metabolism","t":"Brain TM","v":-0.05},{"p":"Sulfur metabolism","t":"Lung TM","v":1},{"p":"Sulfur metabolism","t":"Liver TM","v":2.75},
{"p":"Beta oxidation of phytanic acid (peroxisomal)","t":"Brain TM","v":-0.05},{"p":"Beta oxidation of phytanic acid (peroxisomal)","t":"Lung TM","v":0.45},{"p":"Beta oxidation of phytanic acid (peroxisomal)","t":"Liver TM","v":2.75},
{"p":"Tricarboxylic acid cycle and glyoxylate/dicarboxylate metabolism","t":"Brain TM","v":-0.05},{"p":"Tricarboxylic acid cycle and glyoxylate/dicarboxylate metabolism","t":"Lung TM","v":0.25},{"p":"Tricarboxylic acid cycle and glyoxylate/dicarboxylate metabolism","t":"Liver TM","v":2.75},
{"p":"Pyrimidine metabolism","t":"Brain TM","v":-0.05},{"p":"Pyrimidine metabolism","t":"Lung TM","v":0.4},{"p":"Pyrimidine metabolism","t":"Liver TM","v":2.75},
{"p":"Histidine metabolism","t":"Brain TM","v":-0.05},{"p":"Histidine metabolism","t":"Lung TM","v":0.6},{"p":"Histidine metabolism","t":"Liver TM","v":2.75},
{"p":"Cholesterol metabolism","t":"Brain TM","v":0.12},{"p":"Cholesterol metabolism","t":"Lung TM","v":0.85},{"p":"Cholesterol metabolism","t":"Liver TM","v":2.75},
{"p":"Cysteine and methionine metabolism","t":"Brain TM","v":-0.05},{"p":"Cysteine and methionine metabolism","t":"Lung TM","v":0.25},{"p":"Cysteine and methionine metabolism","t":"Liver TM","v":2.75},
{"p":"Beta oxidation of even-chain fatty acids (mitochondrial)","t":"Brain TM","v":-0.05},{"p":"Beta oxidation of even-chain fatty acids (mitochondrial)","t":"Lung TM","v":0.1},{"p":"Beta oxidation of even-chain fatty acids (mitochondrial)","t":"Liver TM","v":2.35},
{"p":"Beta oxidation of di-unsaturated fatty acids (n-6) (peroxisomal)","t":"Brain TM","v":-0.05},{"p":"Beta oxidation of di-unsaturated fatty acids (n-6) (peroxisomal)","t":"Lung TM","v":0.1},{"p":"Beta oxidation of di-unsaturated fatty acids (n-6) (peroxisomal)","t":"Liver TM","v":2.05},
{"p":"Butanoate metabolism","t":"Brain TM","v":0.01},{"p":"Butanoate metabolism","t":"Lung TM","v":0.1},{"p":"Butanoate metabolism","t":"Liver TM","v":2.05},
{"p":"Beta oxidation of di-unsaturated fatty acids (n-6) (mitochondrial)","t":"Brain TM","v":-0.05},{"p":"Beta oxidation of di-unsaturated fatty acids (n-6) (mitochondrial)","t":"Lung TM","v":0.1},{"p":"Beta oxidation of di-unsaturated fatty acids (n-6) (mitochondrial)","t":"Liver TM","v":2.05},
{"p":"Metabolism of other amino acids","t":"Brain TM","v":-0.05},{"p":"Metabolism of other amino acids","t":"Lung TM","v":0.1},{"p":"Metabolism of other amino acids","t":"Liver TM","v":1.9},
{"p":"Fatty acid biosynthesis","t":"Brain TM","v":0.45},{"p":"Fatty acid biosynthesis","t":"Lung TM","v":0.85},{"p":"Fatty acid biosynthesis","t":"Liver TM","v":2.15},
{"p":"Acylglycerides metabolism","t":"Brain TM","v":0.25},{"p":"Acylglycerides metabolism","t":"Lung TM","v":0.65},{"p":"Acylglycerides metabolism","t":"Liver TM","v":2.3},
{"p":"Starch and sucrose metabolism","t":"Brain TM","v":-0.05},{"p":"Starch and sucrose metabolism","t":"Lung TM","v":0.85},{"p":"Starch and sucrose metabolism","t":"Liver TM","v":2.3},
{"p":"Omega-3 fatty acid metabolism","t":"Brain TM","v":-0.05},{"p":"Omega-3 fatty acid metabolism","t":"Lung TM","v":0.85},{"p":"Omega-3 fatty acid metabolism","t":"Liver TM","v":2.3},
{"p":"Pentose and glucuronate interconversions","t":"Brain TM","v":-0.05},{"p":"Pentose and glucuronate interconversions","t":"Lung TM","v":0.95},{"p":"Pentose and glucuronate interconversions","t":"Liver TM","v":2.7},
{"p":"Fructose and mannose metabolism","t":"Brain TM","v":0.1},{"p":"Fructose and mannose metabolism","t":"Lung TM","v":1},{"p":"Fructose and mannose metabolism","t":"Liver TM","v":2.6},
{"p":"Biopterin metabolism","t":"Brain TM","v":-0.05},{"p":"Biopterin metabolism","t":"Lung TM","v":1.9},{"p":"Biopterin metabolism","t":"Liver TM","v":1.9},
{"p":"Prostaglandin biosynthesis","t":"Brain TM","v":-0.05},{"p":"Prostaglandin biosynthesis","t":"Lung TM","v":2},{"p":"Prostaglandin biosynthesis","t":"Liver TM","v":0.85},
{"p":"O-glycan metabolism","t":"Brain TM","v":-0.05},{"p":"O-glycan metabolism","t":"Lung TM","v":2.7},{"p":"O-glycan metabolism","t":"Liver TM","v":0},
{"p":"Ether lipid metabolism","t":"Brain TM","v":-0.05},{"p":"Ether lipid metabolism","t":"Lung TM","v":2.7},{"p":"Ether lipid metabolism","t":"Liver TM","v":0.65},
{"p":"Glycerophospholipid metabolism","t":"Brain TM","v":0.1},{"p":"Glycerophospholipid metabolism","t":"Lung TM","v":2.7},{"p":"Glycerophospholipid metabolism","t":"Liver TM","v":1.6},
{"p":"Protein degradation","t":"Brain TM","v":-0.4},{"p":"Protein degradation","t":"Lung TM","v":2.7},{"p":"Protein degradation","t":"Liver TM","v":0.7},
{"p":"Glycerolipid metabolism","t":"Brain TM","v":-0.1},{"p":"Glycerolipid metabolism","t":"Lung TM","v":2.7},{"p":"Glycerolipid metabolism","t":"Liver TM","v":2.8},
{"p":"Eicosanoid metabolism","t":"Brain TM","v":-0.1},{"p":"Eicosanoid metabolism","t":"Lung TM","v":2.7},{"p":"Eicosanoid metabolism","t":"Liver TM","v":2.8}
]},"mark":{"type":"rect","stroke":"#444","strokeWidth":0.4},"encoding":{
"x":{"field":"t","type":"nominal","sort":null,"title":null,"axis":{"labelAngle":-90,"labelFontSize":15.5,"labelColor":"#111","labelPadding":4,"ticks":false,"domain":false,"labelOverlap":false}},
"y":{"field":"p","type":"nominal","sort":null,"title":null,"axis":{"orient":"right","labelFontSize":10.5,"labelColor":"#333","labelPadding":1,"ticks":false,"domain":false,"labelLimit":400,"labelOverlap":false}},
"color":{"field":"v","type":"quantitative","legend":null,"scale":{"domain":[-2.8,-2,-1,-0.5,-0.15,0,0.3,0.6,1,1.4,1.7,2,2.4,2.8],"range":["#2b3a94","#2f6fc0","#29b6e8","#b5e0f2","#f0f8fc","#ffffff","#fdf6c0","#fbe95e","#fdec20","#ffd000","#f89a1c","#ee2125","#b01f26","#7a1216"]}}}}
],"bounds":"flush","spacing":0},
{"width":114,"height":1,"data":{"values":[{"a":1}]},"mark":{"type":"text","text":""},"encoding":{}},
{"vconcat":[
{"width":1,"height":38,"data":{"values":[{"a":1}]},"mark":{"type":"text","text":""},"encoding":{}},
{"width":65,"height":16,"view":{"stroke":"#666","strokeWidth":0.8},"layer":[
{"data":{"values":[{"a":-2.8,"b":-2.6},{"a":-2.6,"b":-2.4},{"a":-2.4,"b":-2.2},{"a":-2.2,"b":-2},{"a":-2,"b":-1.8},{"a":-1.8,"b":-1.6},{"a":-1.6,"b":-1.4},{"a":-1.4,"b":-1.2},{"a":-1.2,"b":-1},{"a":-1,"b":-0.8},{"a":-0.8,"b":-0.6},{"a":-0.6,"b":-0.4},{"a":-0.4,"b":-0.2},{"a":-0.2,"b":0},{"a":0,"b":0.2},{"a":0.2,"b":0.4},{"a":0.4,"b":0.6},{"a":0.6,"b":0.8},{"a":0.8,"b":1},{"a":1,"b":1.2},{"a":1.2,"b":1.4},{"a":1.4,"b":1.6},{"a":1.6,"b":1.8},{"a":1.8,"b":2},{"a":2,"b":2.2},{"a":2.2,"b":2.4},{"a":2.4,"b":2.6},{"a":2.6,"b":2.8}]},"mark":"rect","encoding":{
"x":{"field":"a","type":"quantitative","title":null,"scale":{"domain":[-2.8,2.8],"nice":false,"zero":false},"axis":{"orient":"top","values":[-2,0,2],"labelExpr":"datum.value==0?'1':datum.value==2?'2':'-2'","labelFontSize":7.5,"labelColor":"#333","labelPadding":1,"tickSize":2,"tickColor":"#666","domain":false}},
"x2":{"field":"b"},
"color":{"field":"a","type":"quantitative","legend":null,"scale":{"domain":[-2.8,-2,-1,-0.5,-0.15,0,0.3,0.6,1,1.4,1.7,2,2.4,2.8],"range":["#2b3a94","#2f6fc0","#29b6e8","#b5e0f2","#f0f8fc","#ffffff","#fdf6c0","#fbe95e","#fdec20","#ffd000","#f89a1c","#ee2125","#b01f26","#7a1216"]}}}},
{"data":{"values":[{"a":-2.9,"t":"Enriched in Breast TPs"}]},"mark":{"type":"text","align":"right","fontSize":12.3,"color":"#222"},"encoding":{"x":{"field":"a","type":"quantitative"},"text":{"field":"t"}}},
{"data":{"values":[{"a":3,"t":"Enriched in TMs"}]},"mark":{"type":"text","align":"left","fontSize":12.3,"color":"#222"},"encoding":{"x":{"field":"a","type":"quantitative"},"text":{"field":"t"}}},
{"data":{"values":[{"a":0.7,"t":"Signed log₁₀ (p.dist.dir)"}]},"mark":{"type":"text","align":"center","fontSize":10.6,"fontWeight":"bold","color":"#222","dy":-26},"encoding":{"x":{"field":"a","type":"quantitative"},"text":{"field":"t"}}}
]}
],"bounds":"flush","spacing":0}
]}
